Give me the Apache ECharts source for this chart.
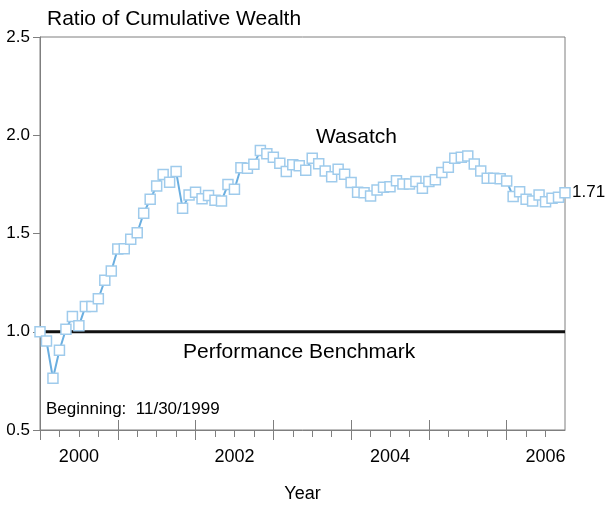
<!DOCTYPE html>
<html><head><meta charset="utf-8">
<script src="https://cdn.jsdelivr.net/npm/echarts@6/dist/echarts.min.js"></script>
<style>html,body{margin:0;padding:0;background:#fff}#c{width:606px;height:506px}</style>
</head><body><div id="c"></div>
<script>
// Monthly values starting 11/30/1999 (month index 0)
var wasatch = [1.00,0.953,0.763,0.906,1.013,1.077,1.03,1.128,1.128,1.168,1.262,1.309,1.421,1.423,1.471,
  1.504,1.603,1.674,1.742,1.80,1.761,1.815,1.628,1.696,1.71,1.677,1.693,1.669,1.666,1.749,
  1.725,1.835,1.832,1.852,1.922,1.906,1.888,1.857,1.815,1.85,1.845,1.822,1.883,1.855,
  1.818,1.789,1.827,1.801,1.759,1.71,1.708,1.691,1.722,1.735,1.738,1.769,1.752,1.752,1.764,
  1.73,1.764,1.773,1.81,1.837,1.883,1.888,1.895,1.854,1.818,1.781,1.781,1.778,1.767,
  1.688,1.713,1.674,1.666,1.696,1.662,1.679,1.684,1.708];
var benchmarkValue = 1.0;
var yearTickPos = [6, 30, 54, 78];
var yearTickText = ['2000', '2002', '2004', '2006'];
var yTicks = [0.5, 1.0, 1.5, 2.0, 2.5];

var FONT = 'Liberation Sans, Arial, sans-serif';
var GRAY = '#7f7f7f';
var nMonths = wasatch.length - 1; // 81

var wData = wasatch.map(function (v, i) { return [i, v]; });
var bData = wasatch.map(function (v, i) { return [i, benchmarkValue]; });

var L = 40, R = 41, T = 37, B = 76;
var W = 606 - L - R;

var chart = echarts.init(document.getElementById('c'), null, {renderer: 'canvas'});
chart.setOption({
  animation: false,
  textStyle: {fontFamily: FONT},
  title: {text: 'Ratio of Cumulative Wealth', left: 42, top: 4,
    textStyle: {fontFamily: FONT, fontSize: 21, fontWeight: 'normal', color: '#000'}},
  grid: [
    {left: L, right: R, top: T, bottom: B, show: true, borderColor: GRAY, borderWidth: 1, containLabel: false, outerBoundsMode: 'none'},
    {left: L, width: W * 72 / nMonths, top: T, bottom: B, show: false, containLabel: false, outerBoundsMode: 'none'},
    {left: L, width: W * 78 / nMonths, top: T, bottom: B, show: false, containLabel: false, outerBoundsMode: 'none'}
  ],
  xAxis: [
    {type: 'value', gridIndex: 0, position: 'bottom', min: 0, max: nMonths, interval: 6,
      axisLine: {show: true, lineStyle: {color: GRAY}},
      axisTick: {show: false}, splitLine: {show: false},
      axisLabel: {margin: 18, fontSize: 18, color: '#000', fontFamily: FONT,
        showMinLabel: true, showMaxLabel: true,
        formatter: function (v) { var k = yearTickPos.indexOf(v); return k >= 0 ? yearTickText[k] : ''; }},
      name: 'Year', nameLocation: 'middle', nameGap: 55,
      nameTextStyle: {fontSize: 18, color: '#000', fontFamily: FONT}},
    {type: 'value', gridIndex: 1, position: 'bottom', min: 0, max: 72, interval: 12,
      axisLine: {show: false}, axisLabel: {show: false}, splitLine: {show: false},
      axisTick: {show: true, inside: true, length: 10, lineStyle: {color: GRAY}}},
    {type: 'value', gridIndex: 1, position: 'bottom', min: 0, max: 72, interval: 12,
      axisLine: {show: false}, axisLabel: {show: false}, splitLine: {show: false},
      axisTick: {show: true, inside: false, length: 10, lineStyle: {color: GRAY}}},
    {type: 'value', gridIndex: 2, position: 'bottom', min: 0, max: 78, interval: 3,
      axisLine: {show: false}, axisLabel: {show: false}, splitLine: {show: false},
      axisTick: {show: true, inside: false, length: 7, lineStyle: {color: GRAY}}}
  ],
  yAxis: [
    {type: 'value', gridIndex: 0, position: 'left', min: yTicks[0], max: yTicks[yTicks.length - 1], interval: 0.5,
      axisLine: {show: true, lineStyle: {color: GRAY}},
      axisTick: {show: true, length: 7, lineStyle: {color: GRAY}},
      splitLine: {show: false},
      axisLabel: {margin: 10, fontSize: 17, color: '#000', fontFamily: FONT,
        formatter: function (v) { return v.toFixed(1); }}},
    {type: 'value', gridIndex: 1, min: 0.5, max: 2.5, show: false},
    {type: 'value', gridIndex: 2, min: 0.5, max: 2.5, show: false}
  ],
  series: [
    {type: 'line', name: 'Performance Benchmark', xAxisIndex: 0, yAxisIndex: 0,
      data: bData, showSymbol: false, symbol: 'none', z: 2,
      lineStyle: {color: '#111', width: 3}},
    {type: 'line', name: 'Wasatch', xAxisIndex: 0, yAxisIndex: 0,
      data: wData, z: 5, symbol: 'rect', symbolSize: 10, showAllSymbol: true,
      lineStyle: {color: '#6aaee0', width: 2},
      itemStyle: {color: '#ffffff', borderColor: '#9fcbec', borderWidth: 1.5},
      endLabel: {show: true, distance: 7, fontSize: 17, color: '#000', fontFamily: FONT,
        formatter: function (p) { return p.value[1].toFixed(2); }}}
  ],
  graphic: [
    {type: 'text', left: 316, top: 127, style: {text: 'Wasatch', fontSize: 21, fill: '#000', fontFamily: FONT}},
    {type: 'text', left: 183, top: 342, style: {text: 'Performance Benchmark', fontSize: 21, fill: '#000', fontFamily: FONT}},
    {type: 'text', left: 46, top: 401, style: {text: 'Beginning:  11/30/1999', fontSize: 17, fill: '#000', fontFamily: FONT}}
  ]
});
</script></body></html>
